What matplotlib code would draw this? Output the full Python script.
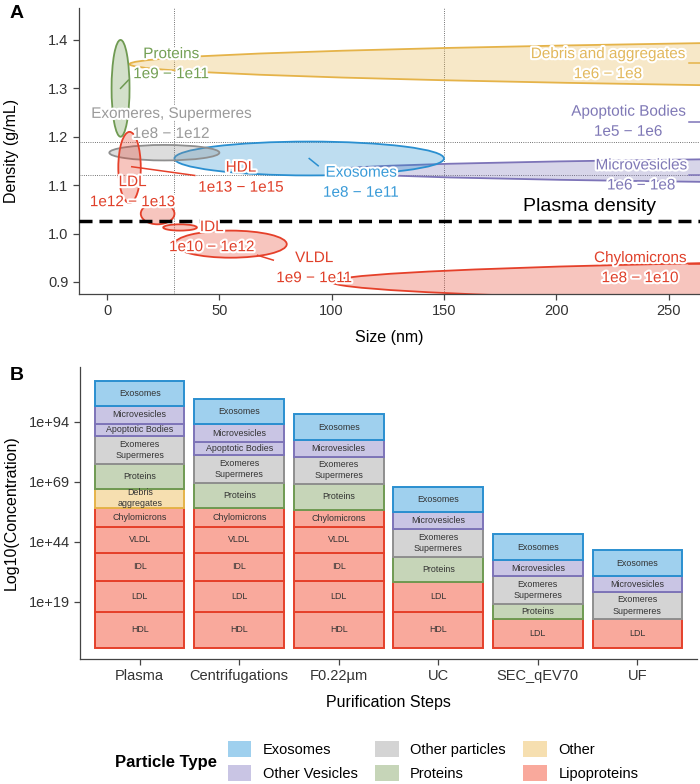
import matplotlib
matplotlib.use('Agg')
import matplotlib.pyplot as plt
import matplotlib.patheffects as pe
from matplotlib.patches import Ellipse, Patch
import numpy as np

plt.rcParams['font.family'] = ['Liberation Sans', 'DejaVu Sans']

# ---- panel A data: size (nm) and density (g/mL) ranges per particle ----
particles = ['Debris and aggregates', 'Apoptotic Bodies', 'Microvesicles', 'Chylomicrons',
             'Exosomes', 'Exomeres, Supermeres', 'Proteins', 'VLDL', 'IDL', 'LDL', 'HDL']
size_min = [10, 500, 100, 100, 30, 1, 2, 30, 25, 15, 5]
size_max = [2000, 5000, 1000, 1000, 150, 50, 10, 80, 40, 30, 15]
dens_min = [1.285, 1.16, 1.10, 0.85, 1.12, 1.151, 1.20, 0.95, 1.006, 1.019, 1.063]
dens_max = [1.415, 1.28, 1.16, 0.95, 1.19, 1.183, 1.40, 1.006, 1.019, 1.063, 1.21]
conc = ['1e6 \u2212 1e8', '1e5 \u2212 1e6', '1e6 \u2212 1e8', '1e8 \u2212 1e10',
        '1e8 \u2212 1e11', '1e8 \u2212 1e12', '1e9 \u2212 1e11', '1e9 \u2212 1e11',
        '1e10 \u2212 1e12', '1e12 \u2212 1e13', '1e13 \u2212 1e15']
group = ['Other', 'Other Vesicles', 'Other Vesicles', 'Lipoproteins', 'Exosomes',
         'Other particles', 'Proteins', 'Lipoproteins', 'Lipoproteins', 'Lipoproteins',
         'Lipoproteins']
plasma_density = 1.025

# ---- panel B data: log10 concentration per step ----
steps = ['Plasma', 'Centrifugations', 'F0.22\u00b5m', 'UC', 'SEC_qEV70', 'UF']
hdl = [15.0, 15.0, 15.0, 14.85, 0, 0]
ldl = [12.8, 12.8, 12.8, 12.65, 12.1, 11.9]
idl = [11.75, 11.75, 11.75, 0, 0, 0]
vldl = [10.75, 10.75, 10.75, 0, 0, 0]
chylo = [8.05, 8.05, 7.1, 0, 0, 0]
debris = [7.65, 0, 0, 0, 0, 0]
proteins = [10.55, 10.4, 10.7, 10.3, 6.2, 0]
exomeres = [11.7, 11.55, 11.5, 11.8, 11.4, 11.3]
apoptotic = [4.9, 5.15, 0, 0, 0, 0]
microvesicles = [7.7, 7.6, 6.7, 6.9, 6.7, 6.5]
exosomes = [10.3, 10.6, 11.0, 10.4, 10.8, 10.9]

stack = [('HDL', hdl, 'Lipoproteins'), ('LDL', ldl, 'Lipoproteins'),
         ('IDL', idl, 'Lipoproteins'), ('VLDL', vldl, 'Lipoproteins'),
         ('Chylomicrons', chylo, 'Lipoproteins'), ('Debris\naggregates', debris, 'Other'),
         ('Proteins', proteins, 'Proteins'), ('Exomeres\nSupermeres', exomeres, 'Other particles'),
         ('Apoptotic Bodies', apoptotic, 'Other Vesicles'),
         ('Microvesicles', microvesicles, 'Other Vesicles'), ('Exosomes', exosomes, 'Exosomes')]

legend_order = ['Exosomes', 'Other Vesicles', 'Other particles', 'Proteins', 'Other', 'Lipoproteins']

# colours
edge = {'Exosomes': '#2a8fd0', 'Other Vesicles': '#7d74b8', 'Other particles': '#8f8f8f',
        'Proteins': '#6f9a52', 'Other': '#e5b349', 'Lipoproteins': '#e5402a'}
text_col = {'Exosomes': '#3a9bd8', 'Other Vesicles': '#7f78b6', 'Other particles': '#9a9a9a',
            'Proteins': '#74a055', 'Other': '#e2b85c', 'Lipoproteins': '#e0402a'}
fill = {'Exosomes': '#9fd0ee', 'Other Vesicles': '#c9c5e4', 'Other particles': '#d4d4d4',
        'Proteins': '#c6d5b8', 'Other': '#f6dfb0', 'Lipoproteins': '#f9a99c'}

# label placement for panel A (centre of the two-line label)
label_pos = {'Debris and aggregates': (223, 1.35), 'Apoptotic Bodies': (232, 1.231),
             'Microvesicles': (237.8, 1.12), 'Chylomicrons': (237.3, 0.9285),
             'Exosomes': (113, 1.105), 'Exomeres, Supermeres': (28.5, 1.2265),
             'Proteins': (28.5, 1.35), 'VLDL': (92.2, 0.9285), 'IDL': (46.6, 0.9925),
             'LDL': (11.35, 1.0855), 'HDL': (59.6, 1.1155)}
leaders = {'Proteins': ((6, 1.30), (9.5, 1.317)),
           'Debris and aggregates': ((259, 1.352), (266, 1.352)),
           'Apoptotic Bodies': ((259, 1.231), (266, 1.231)),
           'Microvesicles': ((259, 1.12), (266, 1.12)),
           'Chylomicrons': ((259, 0.938), (266, 0.938)),
           'Exosomes': ((90, 1.155), (94, 1.14)),
           'HDL': ((11, 1.138), (39, 1.12)),
           'VLDL': ((67, 0.955), (74, 0.945))}

W, H = 700, 784
fig = plt.figure(figsize=(7, 7.84), dpi=100)

# ================= panel A =================
axA = fig.add_axes([79 / W, 1 - 294 / H, (W - 79) / W, (294 - 8) / H])
axA.set_xlim(-12.5, 264)
axA.set_ylim(0.875, 1.466)

for i, name in enumerate(particles):
    g = group[i]
    cx = (size_min[i] + size_max[i]) / 2
    cy = (dens_min[i] + dens_max[i]) / 2
    w = size_max[i] - size_min[i]
    h = dens_max[i] - dens_min[i]
    axA.add_patch(Ellipse((cx, cy), w, h, facecolor=edge[g], alpha=0.3, edgecolor='none', zorder=2))
    axA.add_patch(Ellipse((cx, cy), w, h, facecolor='none', edgecolor=edge[g], lw=1.3, zorder=2))

axA.axvline(30, color='#444444', lw=0.6, ls=':', zorder=1)
axA.axvline(150, color='#444444', lw=0.6, ls=':', zorder=1)
axA.axhline(1.12, color='#444444', lw=0.6, ls=':', zorder=1)
axA.axhline(1.19, color='#444444', lw=0.6, ls=':', zorder=1)
axA.axhline(plasma_density, color='black', lw=2.5, dashes=(3.75, 2), zorder=3)
axA.text(215, 1.056, 'Plasma density', fontsize=14, ha='center', va='center', zorder=4)

halo = [pe.withStroke(linewidth=3, foreground='white')]
for i, name in enumerate(particles):
    g = group[i]
    if name in leaders:
        (x0, y0), (x1, y1) = leaders[name]
        axA.plot([x0, x1], [y0, y1], color=edge[g], lw=1.1, zorder=4, clip_on=True)
    lx, ly = label_pos[name]
    axA.text(lx, ly, f'{name}\n{conc[i]}', color=text_col[g], fontsize=11, ha='center',
             va='center', linespacing=1.55, zorder=5, path_effects=halo)

axA.set_xticks([0, 50, 100, 150, 200, 250])
axA.set_yticks([0.9, 1.0, 1.1, 1.2, 1.3, 1.4])
axA.set_xlabel('Size (nm)', fontsize=11.5, labelpad=8)
axA.set_ylabel('Density (g/mL)', fontsize=11.5)
axA.yaxis.set_label_coords((19 - 79) / (W - 79), 0.5)

# ================= panel B =================
axB = fig.add_axes([80 / W, 1 - 659 / H, 617 / W, (659 - 367) / H])
x = np.arange(1, len(steps) + 1)
bottom = np.zeros(len(steps))
for label, vals, g in stack:
    vals = np.array(vals, dtype=float)
    for j in range(len(steps)):
        if vals[j] <= 0:
            continue
        axB.bar(x[j], vals[j], bottom=bottom[j], width=0.9, color=fill[g],
                edgecolor=edge[g], linewidth=1.4, zorder=2)
        axB.text(x[j], bottom[j] + vals[j] / 2, label, ha='center', va='center',
                 fontsize=6.4, color='#333333', linespacing=1.3, zorder=3)
    bottom += vals

axB.set_xlim(0.4, 6.6)
axB.set_ylim(-4.75, 116.9)
axB.set_xticks(x)
axB.set_xticklabels(steps)
axB.set_yticks([19, 44, 69, 94])
axB.set_yticklabels(['1e+19', '1e+44', '1e+69', '1e+94'])
axB.set_xlabel('Purification Steps', fontsize=11.5, labelpad=8)
axB.set_ylabel('Log10(Concentration)', fontsize=11.5)
axB.yaxis.set_label_coords((19 - 80) / 617, 0.5)

for ax in (axA, axB):
    for s in ('top', 'right'):
        ax.spines[s].set_visible(False)
    for s in ('left', 'bottom'):
        ax.spines[s].set_color('#444444')
        ax.spines[s].set_linewidth(0.9)
    ax.tick_params(colors='#444444', labelcolor='#333333', labelsize=10.5, length=4, width=0.9)

fig.text(10 / W, 1 - 14 / H, 'A', fontsize=14, fontweight='bold', va='center')
fig.text(10 / W, 1 - 376 / H, 'B', fontsize=14, fontweight='bold', va='center')

# legend
handles = [Patch(facecolor=fill[k], edgecolor='none') for k in legend_order]
fig.legend(handles, legend_order, ncol=3, loc='center left',
           bbox_to_anchor=(222 / W, 1 - 761 / H), frameon=False, fontsize=10.5,
           handlelength=1.6, handleheight=1.3, handletextpad=0.8, columnspacing=1.2,
           labelspacing=0.55, borderaxespad=0)
fig.text(115 / W, 1 - 762 / H, 'Particle Type', fontsize=12, fontweight='bold', va='center')

fig.savefig('out.png', dpi=100)
